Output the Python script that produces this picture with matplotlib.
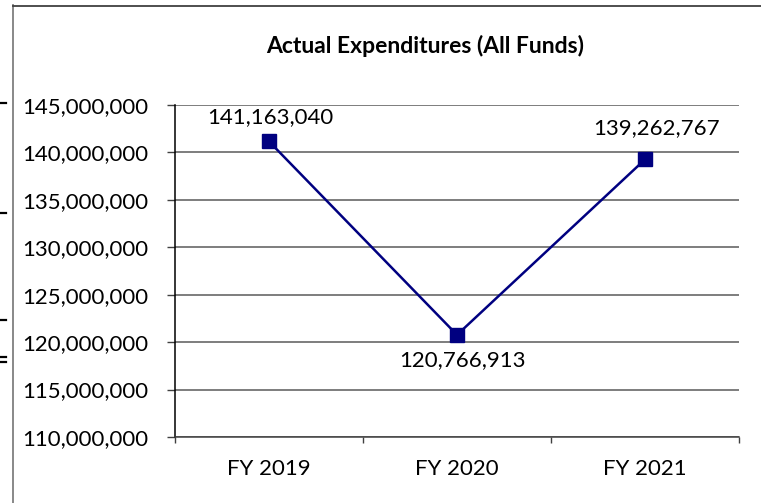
import matplotlib
matplotlib.use('Agg')
import matplotlib.pyplot as plt
from matplotlib.lines import Line2D

# data
years = ['FY 2019', 'FY 2020', 'FY 2021']
spend = [141163040, 120766913, 139262767]
title = 'Actual Expenditures (All Funds)'
yticks = [110000000, 115000000, 120000000, 125000000, 130000000, 135000000, 140000000, 145000000]

plt.rcParams['font.family'] = ['Lato', 'DejaVu Sans']

W, H = 761, 503
fig = plt.figure(figsize=(W / 100, H / 100), dpi=100)

def fx(px):
    return px / W

def fy(py):
    return 1 - py / H

# outer chart border (only left and top visible) + stray marks at left edge
fig.add_artist(Line2D([fx(12.5), fx(12.5)], [fy(5), 0], color='#7f7f7f', lw=1.3))
fig.add_artist(Line2D([fx(12.5), 1], [fy(5.5), fy(5.5)], color='#404040', lw=1.3))
for yy in [103, 213, 320, 357, 362]:
    fig.add_artist(Line2D([0, fx(6)], [fy(yy), fy(yy)], color='black', lw=1.6))

ax = fig.add_axes([fx(175), fy(437), fx(739) - fx(175), fy(105) - fy(437)])

x = [i + 0.5 for i in range(len(years))]
ax.plot(x, spend, color='#000080', lw=1.8, marker='s', markersize=10.5,
        markerfacecolor='#000080', markeredgecolor='#000080', zorder=5)

# data labels (offsets in pixels)
offs = [(1, 14, 'bottom'), (5, -15, 'top'), (12, 21, 'bottom')]
for xi, v, (dx, dy, va) in zip(x, spend, offs):
    ax.annotate(f'{v:,}', (xi, v), xytext=(dx * 0.72, dy * 0.72), textcoords='offset points',
                ha='center', va=va, fontsize=16, color='black')

ax.set_xlim(0, 3)
ax.set_ylim(110000000, 145000000)
ax.set_yticks(yticks)
ax.set_yticklabels([f'{t:,}' for t in yticks])
ax.yaxis.grid(True, color='#5a5a5a', lw=1.1)
ax.set_axisbelow(True)

ax.set_xticks([0, 1, 2, 3])
ax.set_xticklabels([])
ax.set_xticks(x, minor=True)
ax.set_xticklabels(years, minor=True)
ax.tick_params(axis='x', which='major', length=4.3, width=1, direction='out', color='#404040')
ax.tick_params(axis='x', which='minor', length=0, pad=16, labelsize=16)
ax.tick_params(axis='y', length=5.8, width=1, direction='out', pad=13.5, labelsize=16, color='#404040')

for s in ['top', 'right']:
    ax.spines[s].set_visible(False)
ax.spines['left'].set_color('black')
ax.spines['left'].set_linewidth(1.1)
ax.spines['bottom'].set_color('#404040')
ax.spines['bottom'].set_linewidth(1.1)

fig.text(fx(425), fy(46), title, ha='center', va='center', fontsize=16.5, fontweight='bold')

fig.savefig('out.png', dpi=100)
